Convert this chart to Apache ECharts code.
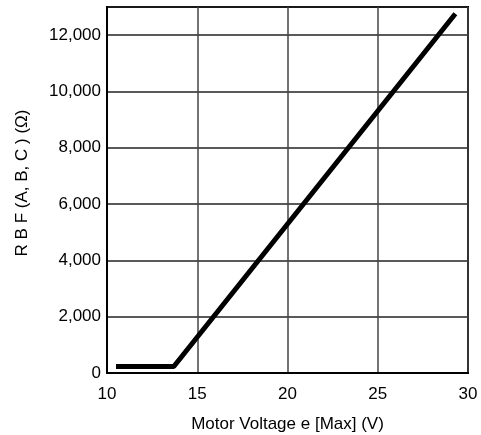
<!DOCTYPE html>
<html><head><meta charset="utf-8">
<script src="https://cdn.jsdelivr.net/npm/echarts@6/dist/echarts.min.js"></script>
<style>html,body{margin:0;padding:0;background:#fff}#c{width:481px;height:435px}</style>
</head><body><div id="c"></div>
<script>
const xTitle = "Motor Voltage e [Max] (V)";
const yTitle = "R B F (A, B, C ) (\u03A9)";
const voltage = [10.5, 13.7, 29.3];
const resistance = [230, 230, 12760];
const xTicks = [10, 15, 20, 25, 30];
const yTicks = [0, 2000, 4000, 6000, 8000, 10000, 12000];

const chart = echarts.init(document.getElementById('c'));
const font = 'Liberation Sans, Arial, Helvetica, sans-serif';
chart.setOption({
  animation: false,
  grid: { left: 107, right: 13, top: 7, bottom: 62, show: true, borderColor: '#000', borderWidth: 2,
    containLabel: false, outerBoundsMode: 'none' },
  xAxis: {
    type: 'value', min: 10, max: 30, interval: 5,
    name: xTitle, nameLocation: 'middle', nameGap: 43,
    nameTextStyle: { color: '#000', fontSize: 17, fontFamily: font },
    axisLine: { show: true, lineStyle: { color: '#000', width: 2 } },
    axisTick: { show: false },
    axisLabel: { color: '#000', fontSize: 17, fontFamily: font, margin: 13,
      formatter: v => xTicks.includes(v) ? String(v) : '' },
    splitLine: { show: true, lineStyle: { color: '#444', width: 1.5 } }
  },
  yAxis: {
    type: 'value', min: 0, max: 13000, interval: 2000,
    name: yTitle, nameLocation: 'middle', nameGap: 76,
    nameTextStyle: { color: '#000', fontSize: 17, fontFamily: font, padding: [0, 0, 0, 14] },
    axisLine: { show: true, lineStyle: { color: '#000', width: 2 } },
    axisTick: { show: false },
    axisLabel: { color: '#000', fontSize: 17, fontFamily: font, margin: 6, showMaxLabel: false,
      formatter: v => yTicks.includes(v) ? v.toLocaleString('en-US') : '' },
    splitLine: { show: true, lineStyle: { color: '#222', width: 1.5 } }
  },
  series: [{
    type: 'line', data: voltage.map((v, i) => [v, resistance[i]]),
    showSymbol: false, lineStyle: { color: '#000', width: 5 }
  }]
});
</script></body></html>
